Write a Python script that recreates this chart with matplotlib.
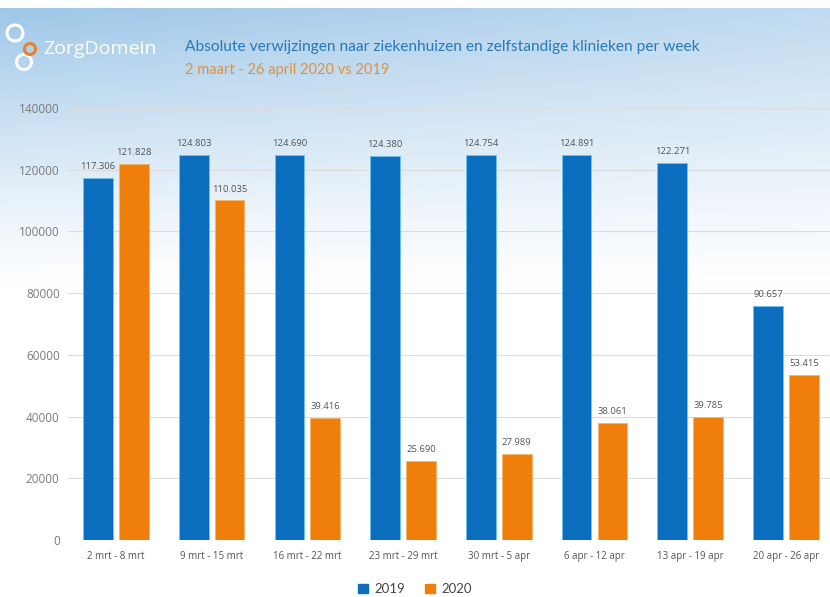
import numpy as np
import matplotlib
matplotlib.use("Agg")
import matplotlib.pyplot as plt
from matplotlib.patches import Patch, Circle

# ---- data ----
weeks = ["2 mrt - 8 mrt", "9 mrt - 15 mrt", "16 mrt - 22 mrt", "23 mrt - 29 mrt",
         "30 mrt - 5 apr", "6 apr - 12 apr", "13 apr - 19 apr", "20 apr - 26 apr"]
bars_2019 = [117306, 124803, 124690, 124380, 124754, 124891, 122271, 75700]
labels_2019 = ["117.306", "124.803", "124.690", "124.380", "124.754", "124.891", "122.271", "90.657"]
bars_2020 = [121828, 110035, 39416, 25690, 27989, 38061, 39785, 53415]
labels_2020 = ["121.828", "110.035", "39.416", "25.690", "27.989", "38.061", "39.785", "53.415"]
yticks = [0, 20000, 40000, 60000, 80000, 100000, 120000, 140000]
series_names = ["2019", "2020"]

title = "Absolute verwijzingen naar ziekenhuizen en zelfstandige klinieken per week"
subtitle = "2 maart - 26 april 2020 vs 2019"

BLUE = "#0a6dbd"
ORANGE = "#f07e0a"

W, H = 830, 597
fig = plt.figure(figsize=(W / 100, H / 100), dpi=100)

# ---- background gradient ----
bg = fig.add_axes([0, 0, 1, 1], zorder=-10)
yy, xx = np.mgrid[0:H, 0:W]
f = np.clip(1 - (yy - 8) / 280.0, 0, 1) ** 1.2
f[yy < 8] = 0
g = 1 - 0.35 * (xx / W)
a = (f * g)[..., None]
base = np.array([0.62, 0.78, 0.91])
img = (1 - a) * np.ones(3) + a * base
bg.imshow(img, aspect="auto", extent=[0, W, H, 0])
bg.set_xlim(0, W)
bg.set_ylim(H, 0)
bg.axis("off")

# logo rings (in pixel coords of bg axes)
for (cx, cy, r, col) in [(15, 33, 8, "white"), (24, 62, 7.5, "white"), (30, 49, 5.5, "#e8822a")]:
    bg.add_patch(Circle((cx, cy), r, fill=False, ec=col, lw=2.2))
bg.text(43, 49, "ZorgDomein", color="white", fontsize=14, family="Open Sans",
        va="center", ha="left")
bg.text(185, 47, title, color="#2a78b6", fontsize=11.2, family="Lato",
        va="center", ha="left")
bg.text(185, 70, subtitle, color="#e0913f", fontsize=10.5, family="Lato",
        va="center", ha="left")

# ---- main axes ----
left_px, right_px, top_px, bot_px = 68, 830, 108, 540
ax = fig.add_axes([left_px / W, 1 - bot_px / H, (right_px - left_px) / W, (bot_px - top_px) / H])
ax.patch.set_alpha(0)

x = np.arange(len(weeks))
bw = 0.31
off = 0.187
b1 = ax.bar(x - off, bars_2019, bw, color=BLUE, edgecolor="#6fc3ee", linewidth=0.6, zorder=3)
b2 = ax.bar(x + off, bars_2020, bw, color=ORANGE, edgecolor="#f7b56a", linewidth=0.6, zorder=3)

for rect, lab in zip(b1, labels_2019):
    ax.annotate(lab, (rect.get_x() + rect.get_width() / 2, rect.get_height()),
                xytext=(0, 5), textcoords="offset points", ha="center", va="bottom",
                fontsize=6.8, color="#555555", family="Open Sans")
for rect, lab in zip(b2, labels_2020):
    ax.annotate(lab, (rect.get_x() + rect.get_width() / 2, rect.get_height()),
                xytext=(0, 5), textcoords="offset points", ha="center", va="bottom",
                fontsize=6.8, color="#555555", family="Open Sans")

ax.set_ylim(0, 140000)
ax.set_xlim(-0.5, 7.46)
ax.set_yticks(yticks)
ax.set_yticklabels([str(t) for t in yticks], fontsize=8.5, color="#7a7a7a", family="Open Sans")
ax.set_xticks(x)
ax.set_xticklabels(weeks, fontsize=7, color="#555555", family="Open Sans")
ax.tick_params(axis="both", length=0)
ax.tick_params(axis="x", pad=8)
ax.tick_params(axis="y", pad=6)
ax.grid(axis="y", color="#dcdcdc", linewidth=0.8, zorder=0)
for s in ax.spines.values():
    s.set_visible(False)

handles = [Patch(color=BLUE), Patch(color=ORANGE)]
fig.legend(handles, series_names, loc="center", bbox_to_anchor=(0.5, 1 - 589 / H),
           ncol=2, frameon=False, handlelength=0.75, handleheight=0.75,
           handletextpad=0.5, columnspacing=1.5,
           prop={"family": "Lato", "size": 9.5}, labelcolor="#444444")

fig.savefig("out.png", dpi=100)
